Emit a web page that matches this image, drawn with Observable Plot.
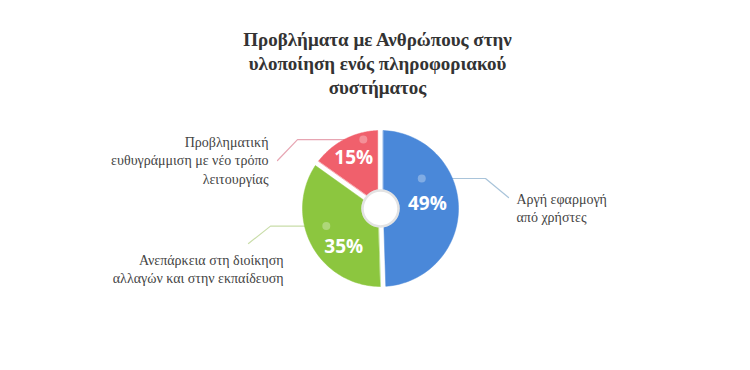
<!DOCTYPE html>
<html>
<head>
<meta charset="utf-8">
<script src="https://cdn.jsdelivr.net/npm/d3@7"></script>
<script src="https://cdn.jsdelivr.net/npm/@observablehq/plot@0.6"></script>
<style>
  html, body { margin: 0; padding: 0; background: #ffffff; }
  #chart { width: 750px; height: 370px; }
  .serif text { font-family: "Liberation Serif", "Times New Roman", "DejaVu Serif", serif; }
</style>
</head>
<body>
<div id="chart"></div>
<script>
// ---- data ----
const titleLines = ["Προβλήματα με Ανθρώπους στην", "υλοποίηση ενός πληροφοριακού", "συστήματος"];
const categories = [
  "Αργή εφαρμογή\nαπό χρήστες",
  "Ανεπάρκεια στη διοίκηση\nαλλαγών και στην εκπαίδευση",
  "Προβληματική\nευθυγράμμιση με νέο τρόπο\nλειτουργίας"
];
const values = [49, 35, 15];
const percentLabels = ["49%", "35%", "15%"];
const colors = ["#4a88d9", "#8cc63f", "#f0606c"];
const leaderColors = ["#a9c4da", "#c9dda9", "#e7a5b2"];

// ---- layout (pixels / degrees) ----
const W = 750, H = 370;
const cx = 380, cy = 208, R = 78, R0 = 19, halfGap = 2.8;
const serif = "'Liberation Serif', 'Times New Roman', 'DejaVu Serif', serif";
const layout = [
  {dotA: 54, dotR: 51, elbowDx: 105, endDx: 128, endDy: -11, labDx: 136, labDy: -1, anchor: "start", labA: 85, labR: 47},
  {dotA: 252, dotR: 57, elbowDx: -110, endDx: -132, endDy: 35, labDx: -97, labDy: 60, anchor: "end", labA: 224, labR: 53},
  {dotA: 346, dotR: 71, elbowDx: -83, endDx: -103, endDy: -48, labDx: -112, labDy: -49, anchor: "end", labA: 332, labR: 57}
];

const rad = d => d * Math.PI / 180;
const px = (a, r) => cx + r * Math.sin(a);
const py = (a, r) => cy - r * Math.cos(a);

// slice polygons from the pie angles
const arcs = d3.pie().sort(null).value(d => d)(values);
const slicePts = [];
arcs.forEach((arc, i) => {
  const a0o = arc.startAngle + Math.asin(halfGap / R), a1o = arc.endAngle - Math.asin(halfGap / R);
  const a0i = arc.startAngle + Math.asin(halfGap / R0), a1i = arc.endAngle - Math.asin(halfGap / R0);
  const n = 80;
  for (let k = 0; k <= n; k++) {
    const a = a0o + (a1o - a0o) * k / n;
    slicePts.push({i, x: px(a, R), y: py(a, R), c: colors[i]});
  }
  for (let k = 0; k <= 20; k++) {
    const a = a1i + (a0i - a1i) * k / 20;
    slicePts.push({i, x: px(a, R0), y: py(a, R0), c: colors[i]});
  }
});

const leaders = [], dots = [], labels = [], pcts = [];
layout.forEach((L, i) => {
  const dx = px(rad(L.dotA), L.dotR), dy = py(rad(L.dotA), L.dotR);
  leaders.push({i, x: dx, y: dy, c: leaderColors[i]});
  leaders.push({i, x: cx + L.elbowDx, y: dy, c: leaderColors[i]});
  leaders.push({i, x: cx + L.endDx, y: cy + L.endDy, c: leaderColors[i]});
  dots.push({x: dx, y: dy});
  labels.push({x: cx + L.labDx, y: cy + L.labDy, text: categories[i], anchor: L.anchor});
  pcts.push({x: px(rad(L.labA), L.labR), y: py(rad(L.labA), L.labR), text: percentLabels[i]});
});

const chart = Plot.plot({
  width: W, height: H,
  margin: 0,
  style: {background: "#ffffff"},
  x: {domain: [0, W], range: [0, W], axis: null},
  y: {domain: [0, H], range: [0, H], axis: null},
  marks: [
    Plot.text([titleLines.join("\n")], {
      x: () => W / 2 + 2, y: () => 62, text: d => d, className: "serif",
      fontFamily: serif, fontWeight: "bold", fontSize: 19,
      lineHeight: 1.27, fill: "#333333"
    }),
    Plot.line(leaders, {x: "x", y: "y", z: "i", stroke: "c", strokeWidth: 1.2}),
    Plot.line(slicePts, {x: "x", y: "y", z: "i", fill: "c", stroke: "c", strokeWidth: 0.5, curve: "linear-closed"}),
    Plot.dot([{x: cx, y: cy}], {x: "x", y: "y", r: R0 - 1, fill: "#ffffff", stroke: "#e3e3e3", strokeWidth: 2.5}),
    Plot.dot(dots, {x: "x", y: "y", r: 4, fill: "#ffffff", fillOpacity: 0.3}),
    Plot.text(pcts, {
      x: "x", y: "y", text: "text", fill: "#ffffff",
      fontFamily: "Open Sans", fontWeight: "bold", fontSize: 19
    }),
    Plot.text(labels.filter(d => d.anchor === "start"), {
      x: "x", y: "y", text: "text", textAnchor: "start", className: "serif",
      fontFamily: serif, fontSize: 14, lineHeight: 1.3, fill: "#444444"
    }),
    Plot.text(labels.filter(d => d.anchor === "end"), {
      x: "x", y: "y", text: "text", textAnchor: "end", className: "serif",
      fontFamily: serif, fontSize: 14, lineHeight: 1.3, fill: "#444444"
    })
  ]
});
chart.querySelectorAll(".serif, .serif text").forEach(el => el.style.fontFamily = serif);
document.getElementById("chart").appendChild(chart);
</script>
</body>
</html>
